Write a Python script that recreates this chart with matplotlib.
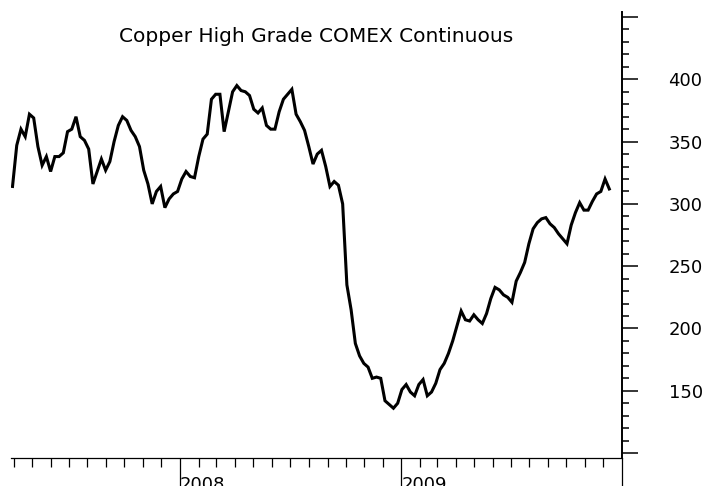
import matplotlib
matplotlib.use('Agg')
import matplotlib.pyplot as plt
import matplotlib.dates as mdates
from matplotlib.ticker import FixedLocator, FixedFormatter, MultipleLocator
import pandas as pd

# ---- data (weekly closes, US cents per pound) ----
start_date = '2007-03-30'
price = [314, 347, 360, 354, 372, 369, 346, 331, 338, 326,
         338, 338, 341, 358, 360, 370, 354, 351, 344, 316,
         326, 336, 327, 334, 350, 363, 370, 367, 359, 354,
         346, 327, 316, 300, 310, 314, 297, 304, 308, 310,
         320, 326, 322, 321, 338, 352, 356, 384, 388, 388,
         358, 374, 390, 395, 391, 390, 387, 376, 373, 377,
         363, 360, 360, 374, 384, 388, 392, 372, 366, 359,
         346, 332, 340, 343, 330, 314, 318, 315, 300, 235,
         215, 188, 178, 172, 169, 160, 161, 160, 142, 139,
         136, 140, 151, 155, 149, 146, 155, 159, 146, 149,
         156, 167, 172, 180, 190, 202, 214, 207, 206, 211,
         207, 204, 212, 224, 233, 231, 227, 225, 221, 238,
         245, 253, 268, 280, 285, 288, 289, 284, 281, 276,
         272, 268, 283, 293, 301, 295, 295, 302, 308, 310,
         320, 312]
year_ticks = ['2008-01-01', '2009-01-01', '2010-01-01']
year_labels = ['2008', '2009', '']
y_ticks = [100, 150, 200, 250, 300, 350, 400, 450]
y_labels = ['', '150', '200', '250', '300', '350', '400', '']
title = 'Copper High Grade COMEX Continuous'

dates = pd.date_range(start_date, periods=len(price), freq='7D')

W, H = 709, 486
fig = plt.figure(figsize=(W / 100, H / 100), dpi=100)
ax = fig.add_axes([11 / W, 27.7 / H, 611 / W, 446 / H])

ax.plot(dates, price, color='black', lw=2.2, solid_joinstyle='miter')

ax.set_xlim(pd.Timestamp('2007-03-27 12:00'), pd.Timestamp('2010-01-01'))
ax.set_ylim(95.8, 453.8)

for s in ['left', 'top']:
    ax.spines[s].set_visible(False)
ax.spines['right'].set_linewidth(1.4)
ax.spines['bottom'].set_linewidth(0.9)

# x axis: years (long ticks) + months (short ticks)
ax.xaxis.set_major_locator(FixedLocator(mdates.date2num(pd.to_datetime(year_ticks))))
ax.xaxis.set_major_formatter(FixedFormatter(year_labels))
ax.xaxis.set_minor_locator(mdates.MonthLocator())
ax.tick_params(axis='x', which='major', direction='out', length=20.5, width=0.9,
               pad=-8, labelsize=13, colors='black')
ax.tick_params(axis='x', which='minor', direction='out', length=6.5, width=0.9)
for lab in ax.get_xticklabels():
    lab.set_horizontalalignment('left')

# y axis on the right
ax.yaxis.tick_right()
ax.yaxis.set_major_locator(FixedLocator(y_ticks))
ax.yaxis.set_major_formatter(FixedFormatter(y_labels))
ax.yaxis.set_minor_locator(MultipleLocator(10))
ax.tick_params(axis='y', which='major', direction='out', length=11.5, width=1.1,
               pad=22, labelsize=13)
ax.tick_params(axis='y', which='minor', direction='out', length=5, width=1.1)

fig.text(316 / W, 1 - 36 / H, title, ha='center', va='center', fontsize=14.5)

fig.savefig('out.png', dpi=100)
